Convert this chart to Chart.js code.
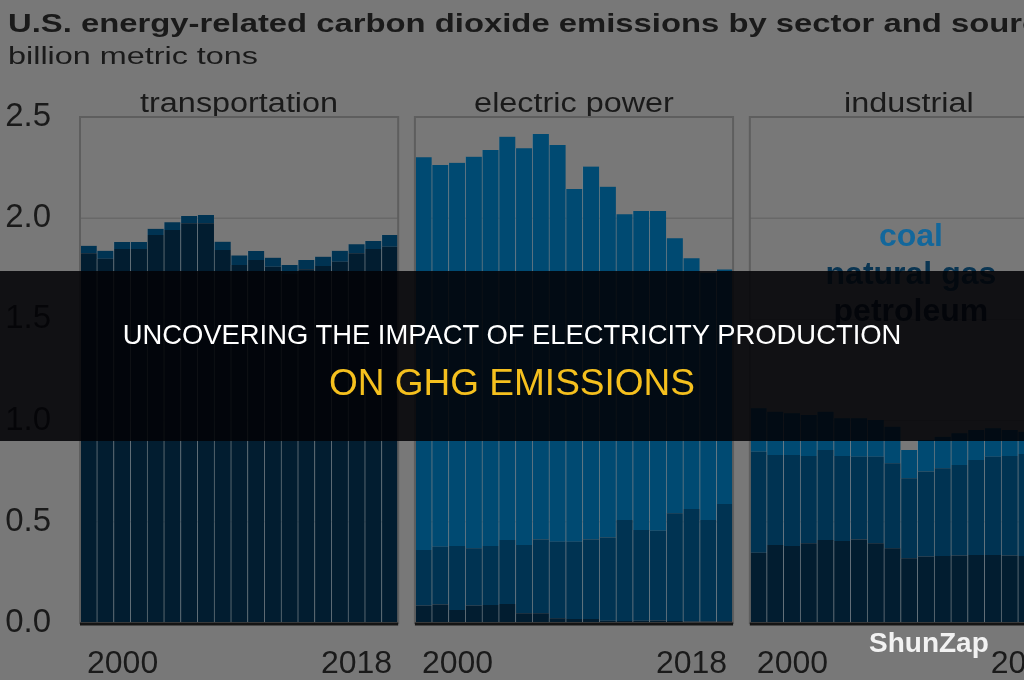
<!DOCTYPE html>
<html>
<head>
<meta charset="utf-8">
<script src="https://cdn.jsdelivr.net/npm/chart.js@4.4.1/dist/chart.umd.min.js"></script>
<style>
  html, body { margin: 0; padding: 0; background: #787878; overflow: hidden; }
  #page { position: relative; width: 1024px; height: 680px; overflow: hidden; }
  #wrap { position: absolute; left: 0; top: 0; width: 1080px; height: 680px; }
  #banner { position: absolute; left: 0; top: 271px; width: 1024px; height: 170px; background: rgba(2, 2, 6, 0.87); }
  .line { position: absolute; left: 0; width: 1024px; text-align: center; font-family: "Liberation Sans", Arial, sans-serif; line-height: 1; white-space: nowrap; }
  #l1 { top: 50px; font-size: 27.4px; color: #ffffff; }
  #l2 { top: 93px; font-size: 37px; color: #f5c01e; }
  #mark { position: absolute; left: 869px; top: 629px; font: bold 28px "Liberation Sans", Arial, sans-serif; line-height: 1; color: #f2f2f2; }
</style>
</head>
<body>
<div id="page">
  <div id="wrap"><canvas id="emissionsChart" width="1080" height="680"></canvas></div>
  <div id="banner">
    <div class="line" id="l1">UNCOVERING THE IMPACT OF ELECTRICITY PRODUCTION</div>
    <div class="line" id="l2">ON GHG EMISSIONS</div>
  </div>
  <div id="mark">ShunZap</div>
</div>
<script>
// --- data, billion metric tons ---
const years = ["2000", "2001", "2002", "2003", "2004", "2005", "2006", "2007", "2008", "2009",
  "2010", "2011", "2012", "2013", "2014", "2015", "2016", "2017", "2018"];
const sectors = ["transportation", "electric power", "industrial"];
const fuels = ["coal", "natural gas", "petroleum"];
const yTickValues = [0, 0.5, 1.0, 1.5, 2.0, 2.5];

const transportPetroleum = [1.827, 1.800, 1.848, 1.848, 1.917, 1.942, 1.975, 1.975, 1.843, 1.769,
  1.793, 1.760, 1.724, 1.748, 1.764, 1.785, 1.827, 1.848, 1.859];
const transportGas = [0.037, 0.039, 0.034, 0.034, 0.031, 0.038, 0.036, 0.041, 0.041, 0.047,
  0.045, 0.045, 0.045, 0.045, 0.046, 0.054, 0.044, 0.039, 0.058];
const transportCoal = [0, 0, 0, 0, 0, 0, 0, 0, 0, 0, 0, 0, 0, 0, 0, 0, 0, 0, 0];

const electricPetroleum = [0.086, 0.092, 0.064, 0.086, 0.089, 0.094, 0.048, 0.048, 0.023, 0.020,
  0.020, 0.011, 0.010, 0.011, 0.012, 0.010, 0.008, 0.008, 0.009];
const electricGas = [0.275, 0.285, 0.316, 0.283, 0.291, 0.316, 0.337, 0.365, 0.379, 0.382,
  0.393, 0.412, 0.499, 0.448, 0.444, 0.532, 0.555, 0.501, 0.579];
const electricCoal = [1.940, 1.886, 1.894, 1.935, 1.957, 1.993, 1.960, 2.003, 1.960, 1.742,
  1.842, 1.733, 1.510, 1.577, 1.580, 1.359, 1.239, 1.221, 1.159];

const industrialPetroleum = [0.347, 0.385, 0.380, 0.394, 0.410, 0.405, 0.413, 0.394, 0.369, 0.320,
  0.328, 0.331, 0.333, 0.336, 0.336, 0.333, 0.331, 0.330, 0.335];
const industrialGas = [0.499, 0.445, 0.450, 0.431, 0.445, 0.420, 0.409, 0.428, 0.420, 0.395,
  0.420, 0.433, 0.448, 0.469, 0.486, 0.492, 0.504, 0.510, 0.530];
const industrialCoal = [0.215, 0.214, 0.206, 0.203, 0.189, 0.186, 0.189, 0.181, 0.181, 0.140,
  0.156, 0.156, 0.156, 0.149, 0.140, 0.129, 0.110, 0.110, 0.105];

// one category axis for all three panels, with an empty slot between them
const joinPanels = (a, b, c) => [...a, null, ...b, null, ...c];
const labels = joinPanels(years, years, years);

const colors = { coal: "#004a72", gas: "#003352", petroleum: "#021d30" };
const textColor = "#1a1a1a";
const font = '"Liberation Sans", Arial, sans-serif';

function stretchText(ctx, text, x, y, sx, align) {
  ctx.save();
  ctx.translate(x, y);
  ctx.scale(sx, 1);
  ctx.textAlign = align;
  ctx.fillText(text, 0, 0);
  ctx.restore();
}

function panelBounds(chart, i) {
  const x = chart.scales.x;
  const half = (x.getPixelForValue(1) - x.getPixelForValue(0)) / 2;
  const first = i * (years.length + 1);
  const last = first + years.length - 1;
  return { left: x.getPixelForValue(first) - half, right: x.getPixelForValue(last) + half };
}

const panelPlugin = {
  id: "panels",
  beforeDatasetsDraw(chart) {
    const ctx = chart.ctx;
    const y = chart.scales.y;
    ctx.save();
    // horizontal grid inside each panel
    ctx.strokeStyle = "#686868";
    ctx.lineWidth = 1.5;
    sectors.forEach((s, i) => {
      const b = panelBounds(chart, i);
      yTickValues.slice(1, -1).forEach(v => {
        const py = y.getPixelForValue(v);
        ctx.beginPath();
        ctx.moveTo(b.left, py);
        ctx.lineTo(b.right, py);
        ctx.stroke();
      });
    });

    // title and unit
    ctx.fillStyle = textColor;
    ctx.textBaseline = "alphabetic";
    ctx.font = "bold 26px " + font;
    const titleScale = 1014 / ctx.measureText("U.S. energy-related carbon dioxide emissions by sector and sour").width;
    stretchText(ctx, "U.S. energy-related carbon dioxide emissions by sector and source", 8, 32, titleScale, "left");
    ctx.font = "23px " + font;
    const unitScale = 250 / ctx.measureText("billion metric tons").width;
    stretchText(ctx, "billion metric tons", 8, 64, unitScale, "left");

    // panel headings
    ctx.font = "27px " + font;
    const headScale = 198 / ctx.measureText(sectors[0]).width;
    sectors.forEach((s, i) => {
      const b = panelBounds(chart, i);
      stretchText(ctx, s, (b.left + b.right) / 2, 112, headScale, "center");
    });
    ctx.restore();
  },
  afterDatasetsDraw(chart) {
    const ctx = chart.ctx;
    const y = chart.scales.y;
    const top = y.getPixelForValue(yTickValues[yTickValues.length - 1]);
    const bottom = y.getPixelForValue(0);
    ctx.save();
    sectors.forEach((s, i) => {
      const b = panelBounds(chart, i);
      ctx.strokeStyle = "#5e5e5e";
      ctx.lineWidth = 2;
      ctx.strokeRect(b.left, top, b.right - b.left, bottom - top);
      ctx.strokeStyle = "#141414";
      ctx.lineWidth = 3;
      ctx.beginPath();
      ctx.moveTo(b.left, bottom + 1);
      ctx.lineTo(b.right, bottom + 1);
      ctx.stroke();

      ctx.fillStyle = textColor;
      ctx.font = "32px " + font;
      ctx.textAlign = "left";
      ctx.fillText(years[0], b.left + 7, 673);
      ctx.textAlign = "right";
      ctx.fillText(years[years.length - 1], b.right - 6, 673);
    });

    // in-panel legend
    const b = panelBounds(chart, 2);
    const cx = (b.left + b.right) / 2 + 2;
    ctx.font = "bold 32px " + font;
    ctx.textAlign = "center";
    const legendColors = ["#13679b", "#0a3552", "#0a1b27"];
    const legendBase = [246, 284, 321];
    fuels.forEach((f, i) => {
      ctx.fillStyle = legendColors[i];
      ctx.fillText(f, cx, legendBase[i]);
    });
    ctx.restore();
  }
};

const barStyle = {
  barPercentage: 1,
  categoryPercentage: 1,
  borderWidth: { left: 1, right: 0, top: 0, bottom: 0 },
  borderColor: "rgba(110, 150, 175, 0.25)",
  borderSkipped: false
};

new Chart(document.getElementById("emissionsChart"), {
  type: "bar",
  data: {
    labels: labels,
    datasets: [
      { label: fuels[2], data: joinPanels(transportPetroleum, electricPetroleum, industrialPetroleum), backgroundColor: colors.petroleum, ...barStyle },
      { label: fuels[1], data: joinPanels(transportGas, electricGas, industrialGas), backgroundColor: colors.gas, ...barStyle },
      { label: fuels[0], data: joinPanels(transportCoal, electricCoal, industrialCoal), backgroundColor: colors.coal, ...barStyle }
    ]
  },
  options: {
    responsive: false,
    animation: false,
    layout: { padding: { top: 117, bottom: 57, left: 0, right: 12 } },
    plugins: { legend: { display: false }, tooltip: { enabled: false } },
    scales: {
      x: { stacked: true, display: false },
      y: {
        stacked: true,
        min: 0,
        max: 2.5,
        ticks: {
          stepSize: 0.5,
          padding: 21,
          color: textColor,
          font: { family: font, size: 33 },
          callback: v => v.toFixed(1)
        },
        grid: { display: false },
        border: { display: false },
        afterFit: s => { s.width = 80; }
      }
    }
  },
  plugins: [panelPlugin]
});
</script>
</body>
</html>
